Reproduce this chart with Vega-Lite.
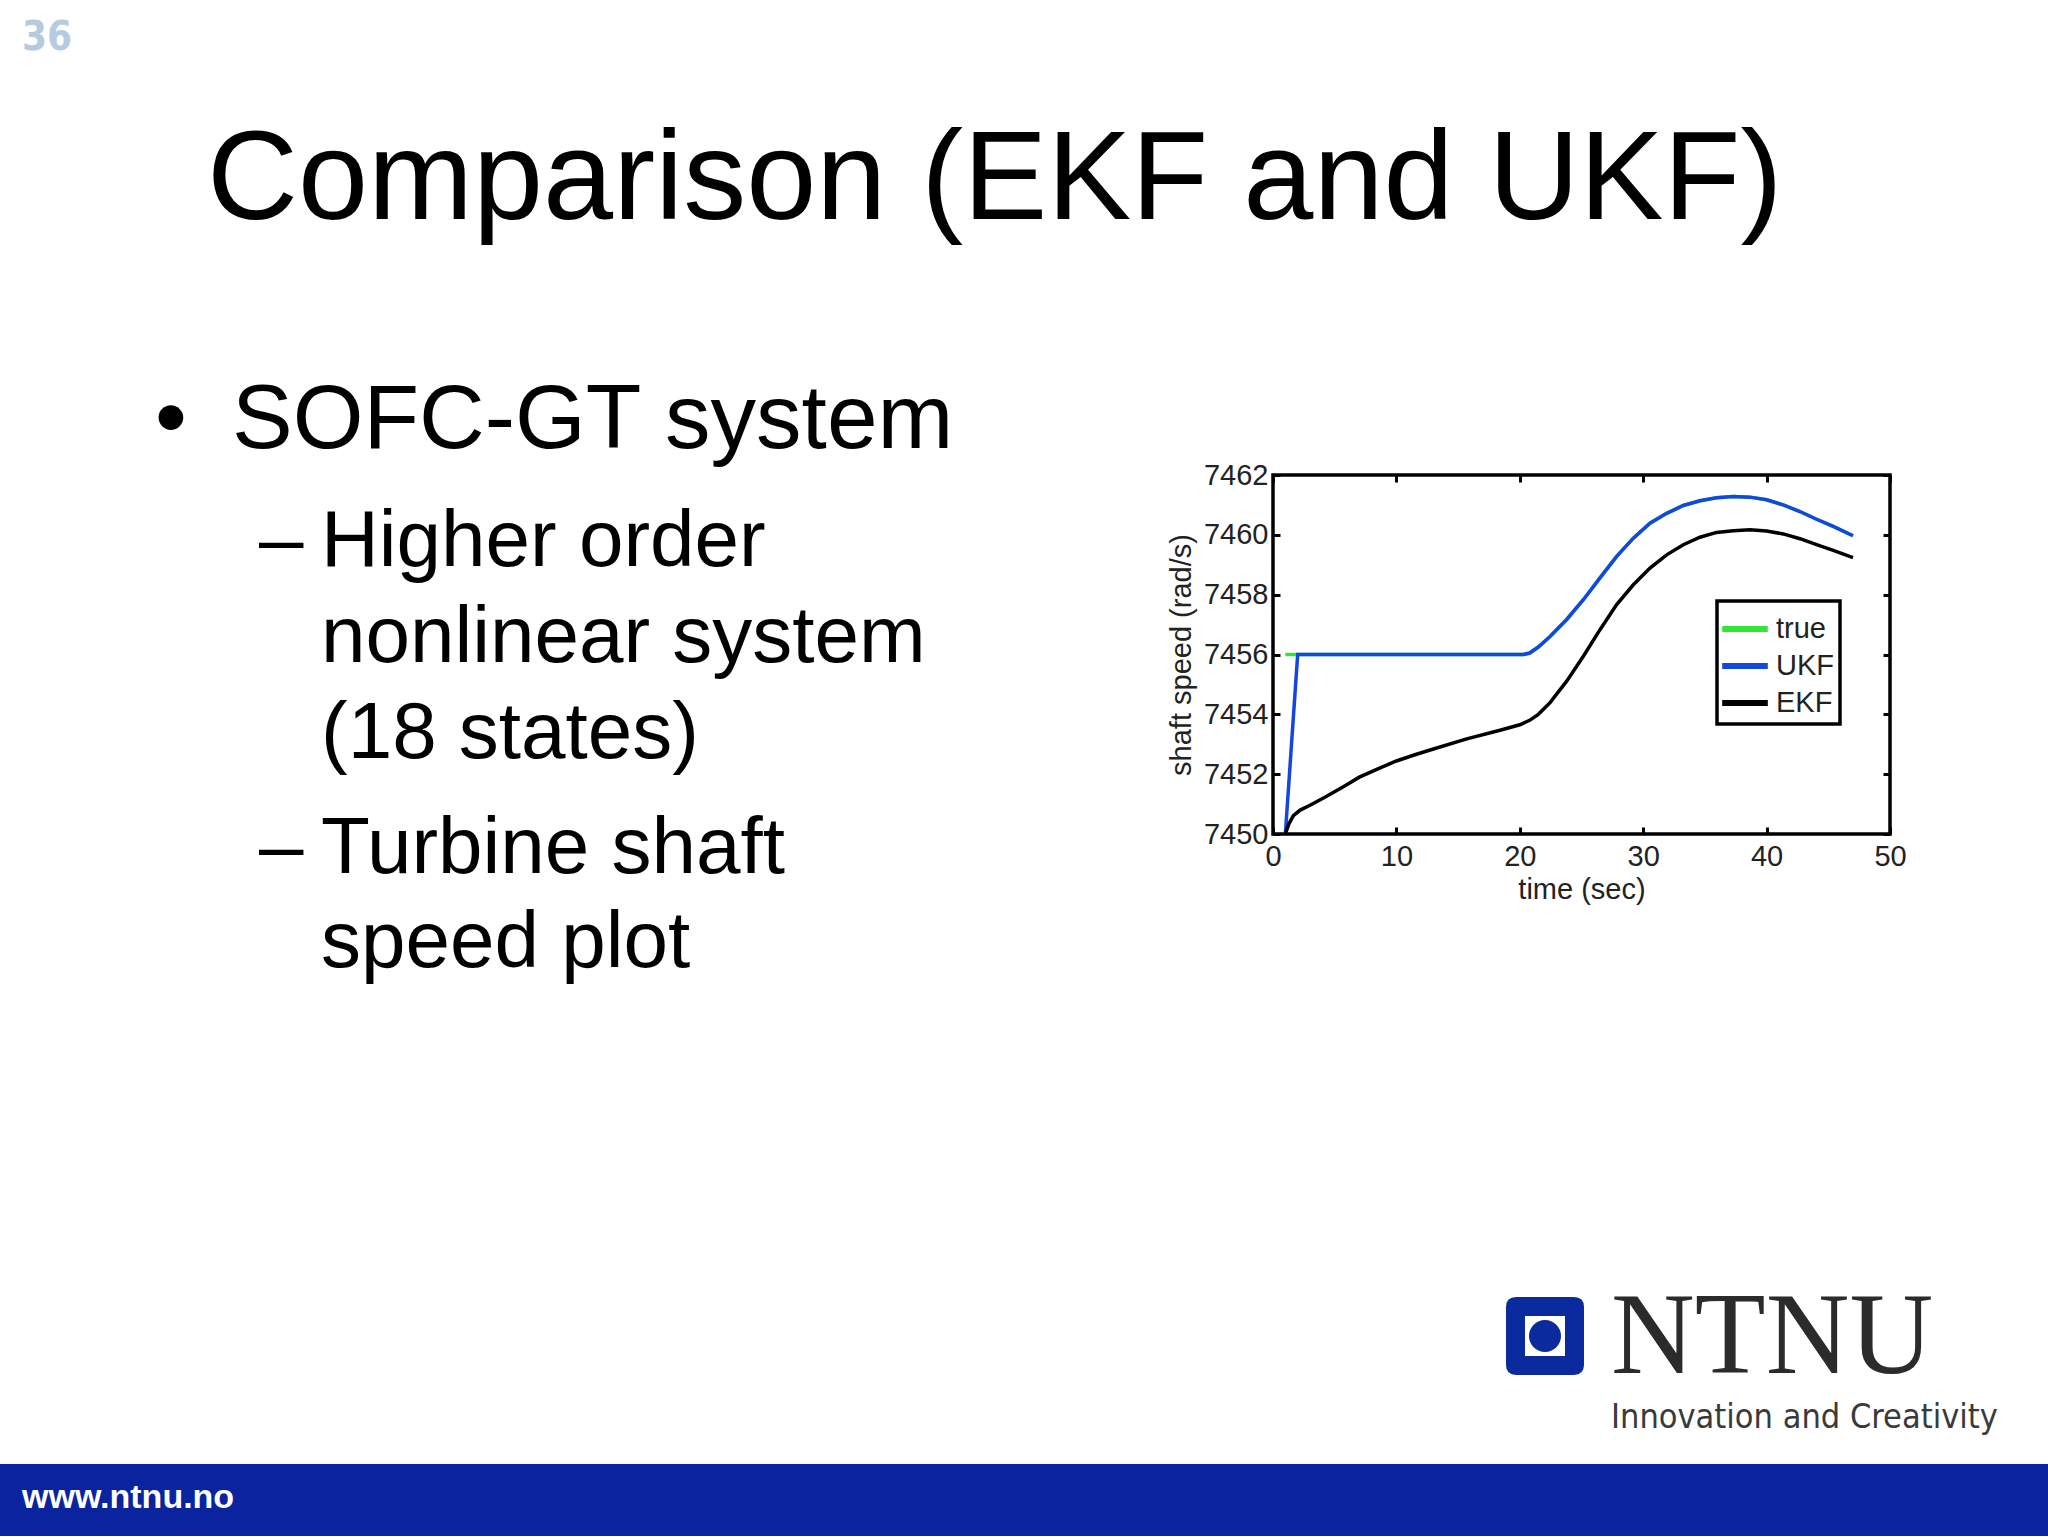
{
  "$schema": "https://vega.github.io/schema/vega-lite/v6.json",
  "width": 617,
  "height": 359,
  "autosize": {"type": "none"},
  "padding": {"left": 1273, "top": 475, "right": 158, "bottom": 702},
  "background": "white",
  "config": {
    "view": {"stroke": "black", "strokeWidth": 3.5},
    "font": "Liberation Sans",
    "legend": {"strokeWidth": 3.5}
  },
  "datasets": {
    "speed": [
      {"series": "true", "t": 1, "v": 7456}, {"series": "true", "t": 2, "v": 7456}, {"series": "true", "t": 5, "v": 7456},
      {"series": "true", "t": 10, "v": 7456}, {"series": "true", "t": 15, "v": 7456}, {"series": "true", "t": 20, "v": 7456},
      {"series": "true", "t": 20.3, "v": 7456.0}, {"series": "true", "t": 20.8, "v": 7456.05}, {"series": "true", "t": 21.5, "v": 7456.25},
      {"series": "true", "t": 22.45, "v": 7456.6}, {"series": "true", "t": 23.8, "v": 7457.17}, {"series": "true", "t": 25.15, "v": 7457.83},
      {"series": "true", "t": 26.5, "v": 7458.56}, {"series": "true", "t": 27.85, "v": 7459.28}, {"series": "true", "t": 29.2, "v": 7459.89},
      {"series": "true", "t": 30.55, "v": 7460.39}, {"series": "true", "t": 31.9, "v": 7460.72}, {"series": "true", "t": 33.25, "v": 7460.98},
      {"series": "true", "t": 34.6, "v": 7461.14}, {"series": "true", "t": 35.95, "v": 7461.24}, {"series": "true", "t": 37.3, "v": 7461.28},
      {"series": "true", "t": 38.65, "v": 7461.26}, {"series": "true", "t": 40, "v": 7461.17}, {"series": "true", "t": 41.35, "v": 7461.0},
      {"series": "true", "t": 42.7, "v": 7460.78}, {"series": "true", "t": 44.05, "v": 7460.52}, {"series": "true", "t": 45.4, "v": 7460.28},
      {"series": "true", "t": 47, "v": 7459.97},

      {"series": "UKF", "t": 1, "v": 7450}, {"series": "UKF", "t": 2, "v": 7456}, {"series": "UKF", "t": 5, "v": 7456},
      {"series": "UKF", "t": 10, "v": 7456}, {"series": "UKF", "t": 15, "v": 7456}, {"series": "UKF", "t": 20, "v": 7456},
      {"series": "UKF", "t": 20.3, "v": 7456.0}, {"series": "UKF", "t": 20.8, "v": 7456.05}, {"series": "UKF", "t": 21.5, "v": 7456.25},
      {"series": "UKF", "t": 22.45, "v": 7456.6}, {"series": "UKF", "t": 23.8, "v": 7457.17}, {"series": "UKF", "t": 25.15, "v": 7457.83},
      {"series": "UKF", "t": 26.5, "v": 7458.56}, {"series": "UKF", "t": 27.85, "v": 7459.28}, {"series": "UKF", "t": 29.2, "v": 7459.89},
      {"series": "UKF", "t": 30.55, "v": 7460.39}, {"series": "UKF", "t": 31.9, "v": 7460.72}, {"series": "UKF", "t": 33.25, "v": 7460.98},
      {"series": "UKF", "t": 34.6, "v": 7461.14}, {"series": "UKF", "t": 35.95, "v": 7461.24}, {"series": "UKF", "t": 37.3, "v": 7461.28},
      {"series": "UKF", "t": 38.65, "v": 7461.26}, {"series": "UKF", "t": 40, "v": 7461.17}, {"series": "UKF", "t": 41.35, "v": 7461.0},
      {"series": "UKF", "t": 42.7, "v": 7460.78}, {"series": "UKF", "t": 44.05, "v": 7460.52}, {"series": "UKF", "t": 45.4, "v": 7460.28},
      {"series": "UKF", "t": 47, "v": 7459.97},

      {"series": "EKF", "t": 1, "v": 7450}, {"series": "EKF", "t": 1.3, "v": 7450.35}, {"series": "EKF", "t": 1.65, "v": 7450.61},
      {"series": "EKF", "t": 2.2, "v": 7450.8}, {"series": "EKF", "t": 3, "v": 7450.96}, {"series": "EKF", "t": 4.35, "v": 7451.26},
      {"series": "EKF", "t": 5.7, "v": 7451.58}, {"series": "EKF", "t": 7, "v": 7451.9}, {"series": "EKF", "t": 8.5, "v": 7452.18},
      {"series": "EKF", "t": 10, "v": 7452.44}, {"series": "EKF", "t": 11.5, "v": 7452.65}, {"series": "EKF", "t": 13, "v": 7452.84},
      {"series": "EKF", "t": 15.7, "v": 7453.18}, {"series": "EKF", "t": 18.4, "v": 7453.47}, {"series": "EKF", "t": 20, "v": 7453.65},
      {"series": "EKF", "t": 20.8, "v": 7453.8}, {"series": "EKF", "t": 21.5, "v": 7454.0}, {"series": "EKF", "t": 22.45, "v": 7454.39},
      {"series": "EKF", "t": 23.8, "v": 7455.11}, {"series": "EKF", "t": 25.15, "v": 7455.94}, {"series": "EKF", "t": 26.5, "v": 7456.83},
      {"series": "EKF", "t": 27.85, "v": 7457.67}, {"series": "EKF", "t": 29.2, "v": 7458.33}, {"series": "EKF", "t": 30.55, "v": 7458.89},
      {"series": "EKF", "t": 31.9, "v": 7459.33}, {"series": "EKF", "t": 33.25, "v": 7459.67}, {"series": "EKF", "t": 34.6, "v": 7459.92},
      {"series": "EKF", "t": 35.95, "v": 7460.08}, {"series": "EKF", "t": 37.3, "v": 7460.14}, {"series": "EKF", "t": 38.65, "v": 7460.17},
      {"series": "EKF", "t": 40, "v": 7460.13}, {"series": "EKF", "t": 41.35, "v": 7460.03}, {"series": "EKF", "t": 42.7, "v": 7459.87},
      {"series": "EKF", "t": 44.05, "v": 7459.67}, {"series": "EKF", "t": 45.4, "v": 7459.48}, {"series": "EKF", "t": 47, "v": 7459.24}
    ],
    "slide": [
      {"line": 1, "column": 0, "role": "page", "text": "36"},
      {"line": 2, "column": 2, "role": "title", "text": "Comparison (EKF and UKF)"},
      {"line": 3, "column": 1, "role": "bullet1", "text": "•"},
      {"line": 3, "column": 3, "role": "level1", "text": "SOFC-GT system"},
      {"line": 4, "column": 4, "role": "bullet2", "text": "–"},
      {"line": 4, "column": 5, "role": "level2", "text": "Higher order"},
      {"line": 5, "column": 5, "role": "level2", "text": "nonlinear system"},
      {"line": 6, "column": 5, "role": "level2", "text": "(18 states)"},
      {"line": 7, "column": 4, "role": "bullet2", "text": "–"},
      {"line": 7, "column": 5, "role": "level2", "text": "Turbine shaft"},
      {"line": 8, "column": 5, "role": "level2", "text": "speed plot"},
      {"line": 9, "column": 6, "role": "logo", "text": ""},
      {"line": 10, "column": 7, "role": "brand", "text": "NTNU"},
      {"line": 11, "column": 7, "role": "tagline", "text": "Innovation and Creativity"},
      {"line": 12, "column": 0, "role": "url", "text": "www.ntnu.no"}
    ]
  },
  "layer": [
    {
      "data": {"name": "speed"},
      "layer": [
        {
          "transform": [{"filter": "datum.series === 'true'"}],
          "mark": {"type": "line", "strokeWidth": 3.5, "interpolate": "linear"},
          "encoding": {
            "x": {"field": "t", "type": "quantitative", "scale": {"domain": [0, 50], "nice": false, "zero": false},
              "axis": {"orient": "bottom", "values": [0, 10, 20, 30, 40, 50], "title": "time (sec)", "domain": false, "grid": false,
                "tickSize": -7, "tickWidth": 3, "tickColor": "black", "labelPadding": 15, "labelFlush": false,
                "labelFontSize": 29, "labelColor": "#222", "labelFont": "Liberation Sans",
                "titleFontSize": 29, "titleFontWeight": "normal", "titleColor": "#222", "titleFont": "Liberation Sans", "titlePadding": 4}},
            "y": {"field": "v", "type": "quantitative", "scale": {"domain": [7450, 7462], "nice": false, "zero": false},
              "axis": {"orient": "left", "values": [7450, 7452, 7454, 7456, 7458, 7460, 7462], "title": "shaft speed (rad/s)", "domain": false, "grid": false,
                "tickSize": -7, "tickWidth": 3, "tickColor": "black", "labelPadding": 12, "labelFlush": false, "format": "d",
                "labelFontSize": 29, "labelColor": "#222", "labelFont": "Liberation Sans",
                "titleFontSize": 29, "titleFontWeight": "normal", "titleColor": "#222", "titleFont": "Liberation Sans", "titlePadding": 7}},
            "color": {"field": "series", "type": "nominal",
              "scale": {"domain": ["true", "UKF", "EKF"], "range": ["#33e633", "#1446e2", "#000000"]},
              "legend": {"orient": "none", "legendX": 444, "legendY": 126, "direction": "vertical", "title": null,
                "strokeColor": "black", "fillColor": "white", "padding": 6,
                "symbolType": "M -1.2 0 L 1.2 0", "symbolSize": 1444, "symbolStrokeWidth": 6, "rowPadding": 0,
                "labelFontSize": 29, "labelFont": "Liberation Sans", "labelColor": "#222", "labelOffset": 9}}
          }
        },
        {
          "transform": [{"filter": "datum.series === 'UKF'"}],
          "mark": {"type": "line", "strokeWidth": 3.5, "interpolate": "linear"},
          "encoding": {
            "x": {"field": "t", "type": "quantitative",
              "axis": {"orient": "top", "values": [0, 10, 20, 30, 40, 50], "labels": false, "title": null, "domain": false, "grid": false,
                "tickSize": -7, "tickWidth": 3, "tickColor": "black"}},
            "y": {"field": "v", "type": "quantitative",
              "axis": {"orient": "right", "values": [7450, 7452, 7454, 7456, 7458, 7460, 7462], "labels": false, "title": null, "domain": false, "grid": false,
                "tickSize": -7, "tickWidth": 3, "tickColor": "black"}},
            "color": {"field": "series", "type": "nominal"}
          }
        },
        {
          "transform": [{"filter": "datum.series === 'EKF'"}],
          "mark": {"type": "line", "strokeWidth": 3.5, "interpolate": "linear"},
          "encoding": {
            "x": {"field": "t", "type": "quantitative", "axis": null},
            "y": {"field": "v", "type": "quantitative", "axis": null},
            "color": {"field": "series", "type": "nominal"}
          }
        }
      ],
      "resolve": {"axis": {"x": "independent", "y": "independent"}}
    },
    {
      "data": {"name": "slide"},
      "transform": [{"filter": "datum.role === 'url'"}],
      "mark": {"type": "rect", "color": "#0a239e"},
      "encoding": {
        "x": {"field": "role", "type": "nominal", "scale": {"type": "band", "range": [-1273, 775], "paddingInner": 0, "paddingOuter": 0}, "axis": null},
        "y": {"field": "role", "type": "nominal", "scale": {"type": "band", "range": [989, 1062], "paddingInner": 0, "paddingOuter": 0}, "axis": null}
      }
    },
    {
      "data": {"name": "slide"},
      "encoding": {
        "x": {"field": "column", "type": "quantitative",
          "scale": {"domain": [0, 1, 2, 3, 4, 5, 6, 7], "range": [-1251, -1118, -1066, -1041, -1014, -952, 272, 338], "nice": false, "zero": false},
          "axis": null},
        "y": {"field": "line", "type": "quantitative",
          "scale": {"domain": [1, 2, 3, 4, 5, 6, 7, 8, 9, 10, 11, 12], "range": [-425, -256, -27, 91, 187, 283, 398, 492, 861, 898, 953, 1033], "nice": false, "zero": false},
          "axis": null}
      },
      "layer": [
        {"transform": [{"filter": "datum.role === 'page'"}],
          "mark": {"type": "text", "align": "left", "baseline": "alphabetic", "fontSize": 40, "fontWeight": "bold", "font": "Liberation Sans Narrow, DejaVu Sans Condensed", "color": "#b4cbe0"},
          "encoding": {"text": {"field": "text"}}},
        {"transform": [{"filter": "datum.role === 'title'"}],
          "mark": {"type": "text", "align": "left", "baseline": "alphabetic", "fontSize": 126, "font": "Liberation Sans", "color": "#000000"},
          "encoding": {"text": {"field": "text"}}},
        {"transform": [{"filter": "datum.role === 'bullet1' || datum.role === 'level1'"}],
          "mark": {"type": "text", "align": "left", "baseline": "alphabetic", "fontSize": 91, "font": "Liberation Sans", "color": "#000000"},
          "encoding": {"text": {"field": "text"}}},
        {"transform": [{"filter": "datum.role === 'bullet2' || datum.role === 'level2'"}],
          "mark": {"type": "text", "align": "left", "baseline": "alphabetic", "fontSize": 80, "font": "Liberation Sans", "color": "#000000"},
          "encoding": {"text": {"field": "text"}}},
        {"transform": [{"filter": "datum.role === 'logo'"}],
          "mark": {"type": "point", "filled": true, "opacity": 1, "strokeWidth": 0, "color": "#0b2a9e", "size": 6084,
            "shape": "M -0.74 -1 L 0.74 -1 Q 1 -1 1 -0.74 L 1 0.74 Q 1 1 0.74 1 L -0.74 1 Q -1 1 -1 0.74 L -1 -0.74 Q -1 -1 -0.74 -1 Z"}},
        {"transform": [{"filter": "datum.role === 'logo'"}],
          "mark": {"type": "point", "filled": true, "opacity": 1, "strokeWidth": 0, "color": "#ffffff", "size": 1600, "shape": "square"}},
        {"transform": [{"filter": "datum.role === 'logo'"}],
          "mark": {"type": "point", "filled": true, "opacity": 1, "strokeWidth": 0, "color": "#0b2a9e", "size": 1024, "shape": "circle"}},
        {"transform": [{"filter": "datum.role === 'brand'"}],
          "mark": {"type": "text", "align": "left", "baseline": "alphabetic", "fontSize": 116, "font": "Liberation Serif", "color": "#2b2b2b"},
          "encoding": {"text": {"field": "text"}}},
        {"transform": [{"filter": "datum.role === 'tagline'"}],
          "mark": {"type": "text", "align": "left", "baseline": "alphabetic", "fontSize": 34, "font": "Liberation Sans Narrow, DejaVu Sans Condensed", "color": "#3a3a3a"},
          "encoding": {"text": {"field": "text"}}},
        {"transform": [{"filter": "datum.role === 'url'"}],
          "mark": {"type": "text", "align": "left", "baseline": "alphabetic", "fontSize": 34, "fontWeight": "bold", "font": "Liberation Sans", "color": "#ffffff"},
          "encoding": {"text": {"field": "text"}}}
      ]
    }
  ],
  "resolve": {"scale": {"x": "independent", "y": "independent"}}
}
